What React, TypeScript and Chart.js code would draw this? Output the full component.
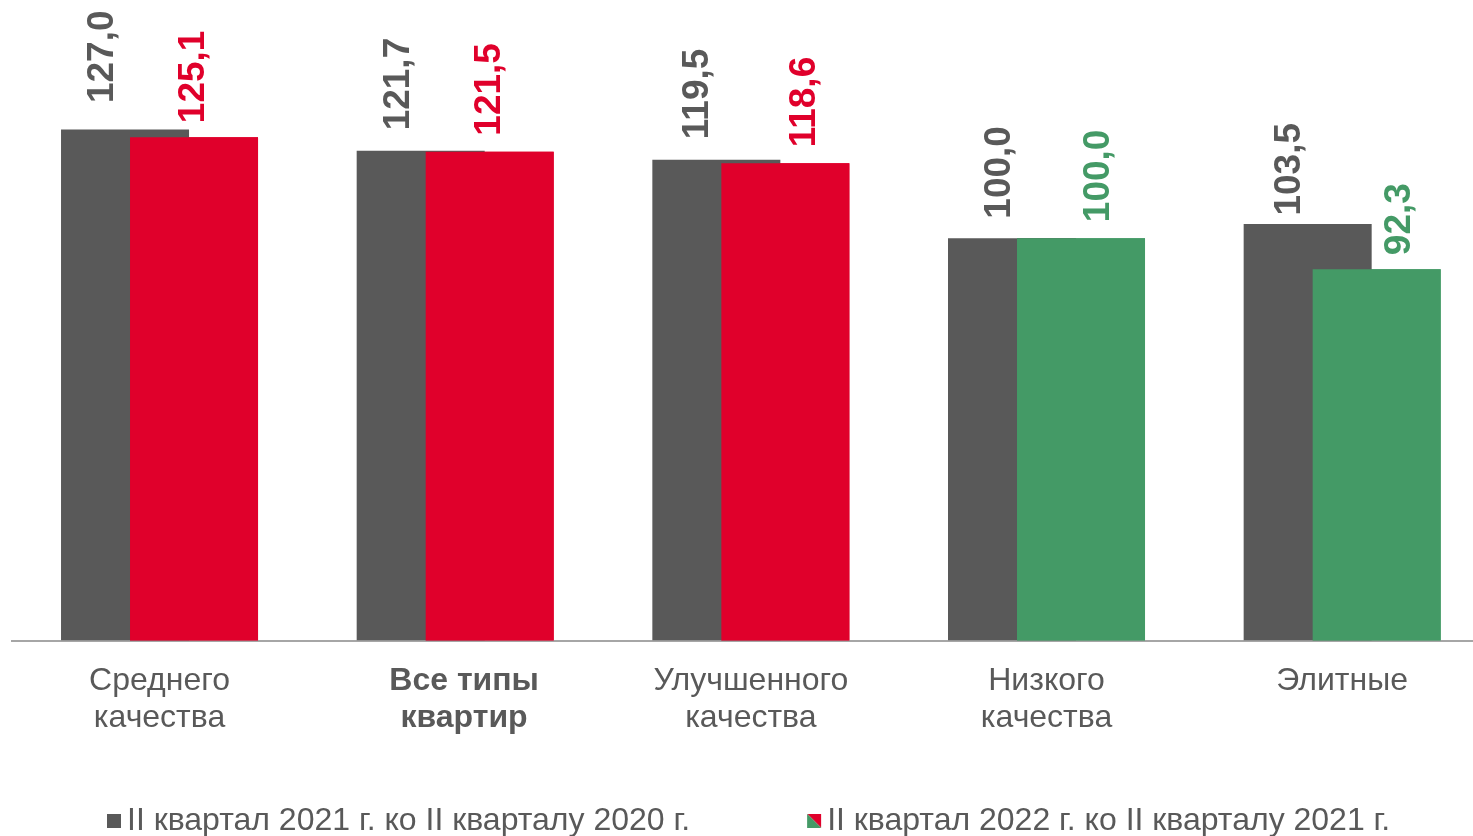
import React, { useEffect, useRef } from 'react';
import { Chart, registerables } from 'chart.js';

Chart.register(...registerables);

// ---------- data ----------
const categories: string[][] = [
  ['Среднего', 'качества'],
  ['Все типы', 'квартир'],
  ['Улучшенного', 'качества'],
  ['Низкого', 'качества'],
  ['Элитные'],
];
const highlightedCategory = 1;
const seriesNames = [
  'II квартал 2021 г. ко II кварталу 2020 г.',
  'II квартал 2022 г. ко II кварталу 2021 г.',
];
const values2021 = [127.0, 121.7, 119.5, 100.0, 103.5];
const values2022 = [125.1, 121.5, 118.6, 100.0, 92.3];

// ---------- styles ----------
const GRAY = '#595959';
const RED = '#E0002B';
const GREEN = '#449A66';
const colors2022 = [RED, RED, RED, GREEN, GREEN];
// manual data-label nudges (pixels), as placed in the original
const labelDx2021 = [-22.5, -22, -18.5, -12, -18];
const labelGap2021 = [26.5, 20.5, 20.5, 19.5, 8.5];
const labelDx2022 = [0, 0, 19, 18, 23];
const labelGap2022 = [14, 16, 16, 16, 14];

const FAMILY = '"Liberation Sans", Arial, sans-serif';
const TICK_SIZE = 32;
const LEGEND_SIZE = 32;
const LABEL_SIZE = 37;
const BW = 111; // legend point-style width
const EXT = 12;
const SQ = 14;

const fmt = (v: number) => v.toFixed(1).replace('.', ',');

function makeMarker(kind: number): HTMLCanvasElement {
  const c = document.createElement('canvas');
  c.width = BW + 2 * EXT;
  c.height = SQ;
  const g = c.getContext('2d')!;
  const x0 = BW + EXT + 10 - SQ;
  if (kind === 0) {
    g.fillStyle = GRAY;
    g.fillRect(x0, 0, SQ, SQ);
  } else {
    g.fillStyle = RED;
    g.beginPath();
    g.moveTo(x0, 0);
    g.lineTo(x0 + SQ, 0);
    g.lineTo(x0 + SQ, SQ);
    g.closePath();
    g.fill();
    g.fillStyle = GREEN;
    g.beginPath();
    g.moveTo(x0, 0);
    g.lineTo(x0 + SQ, SQ);
    g.lineTo(x0, SQ);
    g.closePath();
    g.fill();
  }
  return c;
}

const overlayAndLabels = {
  id: 'overlayAndLabels',
  afterDatasetsDraw(chart: any) {
    // draw the second series on top of the first (overlapping bars)
    chart.getDatasetMeta(1).controller.draw();
    const ctx = chart.ctx as CanvasRenderingContext2D;
    ctx.save();
    ctx.font = `bold ${LABEL_SIZE}px ${FAMILY}`;
    ctx.textAlign = 'left';
    ctx.textBaseline = 'middle';
    [0, 1].forEach((di) => {
      const meta = chart.getDatasetMeta(di);
      const vals = chart.data.datasets[di].data as number[];
      const dx = di === 0 ? labelDx2021 : labelDx2022;
      const gap = di === 0 ? labelGap2021 : labelGap2022;
      meta.data.forEach((el: any, i: number) => {
        const x = el.x + dx[i];
        const y = el.y - gap[i];
        ctx.save();
        ctx.translate(x, y);
        ctx.rotate(-Math.PI / 2);
        ctx.fillStyle = di === 0 ? GRAY : colors2022[i];
        ctx.fillText(fmt(vals[i]), 0, 0);
        ctx.restore();
      });
    });
    ctx.restore();
  },
};

export default function App() {
  const ref = useRef<HTMLCanvasElement>(null);
  useEffect(() => {
    const markers = [makeMarker(0), makeMarker(1)];
    const chart = new Chart(ref.current!, {
      type: 'bar',
      data: {
        labels: categories,
        datasets: [
          { label: seriesNames[0], data: values2021, backgroundColor: GRAY, borderWidth: 0 },
          { label: seriesNames[1], data: values2022, backgroundColor: colors2022, borderWidth: 0 },
        ],
      },
      options: {
        responsive: false,
        animation: false,
        devicePixelRatio: 1,
        events: [],
        layout: { padding: { top: 37, bottom: 3.3, left: 0, right: 10 } },
        datasets: { bar: { categoryPercentage: 0.4668, barPercentage: 1.855 } } as any,
        plugins: {
          tooltip: { enabled: false },
          legend: {
            display: true,
            position: 'bottom',
            align: 'start',
            labels: {
              usePointStyle: true,
              pointStyleWidth: BW,
              padding: 10,
              color: GRAY,
              font: { family: FAMILY, size: LEGEND_SIZE },
              generateLabels: () =>
                seriesNames.map((t, i) => ({
                  text: t,
                  pointStyle: markers[i] as any,
                  fillStyle: i === 0 ? GRAY : RED,
                  strokeStyle: 'transparent',
                  lineWidth: 0,
                  hidden: false,
                  datasetIndex: i,
                  fontColor: GRAY,
                  rotation: 0,
                })),
            },
          },
        },
        scales: {
          x: {
            offset: true,
            grid: { display: false, drawTicks: false },
            border: { display: true, color: '#A6A6A6', width: 2 },
            ticks: {
              padding: 22,
              color: GRAY,
              maxRotation: 0,
              autoSkip: false,
              callback: (_v: any, index: number) =>
                index === highlightedCategory
                  ? categories[index].map((l) => '\u00A0\u00A0' + l)
                  : categories[index],
              font: (c: any) => ({
                family: FAMILY,
                size: TICK_SIZE,
                weight: c.index === highlightedCategory ? 'bold' : 'normal',
                lineHeight: '37px',
              }),
            },
            afterFit: (s: any) => {
              s.height = 154.2;
            },
          },
          y: {
            min: 0,
            max: 150,
            display: true,
            ticks: { display: false },
            grid: { display: false },
            border: { display: false },
            afterFit: (s: any) => {
              s.width = 21.7;
            },
          },
        },
      },
      plugins: [overlayAndLabels],
    } as any);
    return () => chart.destroy();
  }, []);

  return (
    <div
      style={{
        position: 'fixed',
        left: 0,
        top: 0,
        width: 1473,
        height: 836,
        overflow: 'hidden',
        background: '#ffffff',
      }}
    >
      <canvas
        ref={ref}
        width={1510}
        height={850}
        style={{ position: 'absolute', left: -10, top: 0, width: 1510, height: 850 }}
      />
    </div>
  );
}
